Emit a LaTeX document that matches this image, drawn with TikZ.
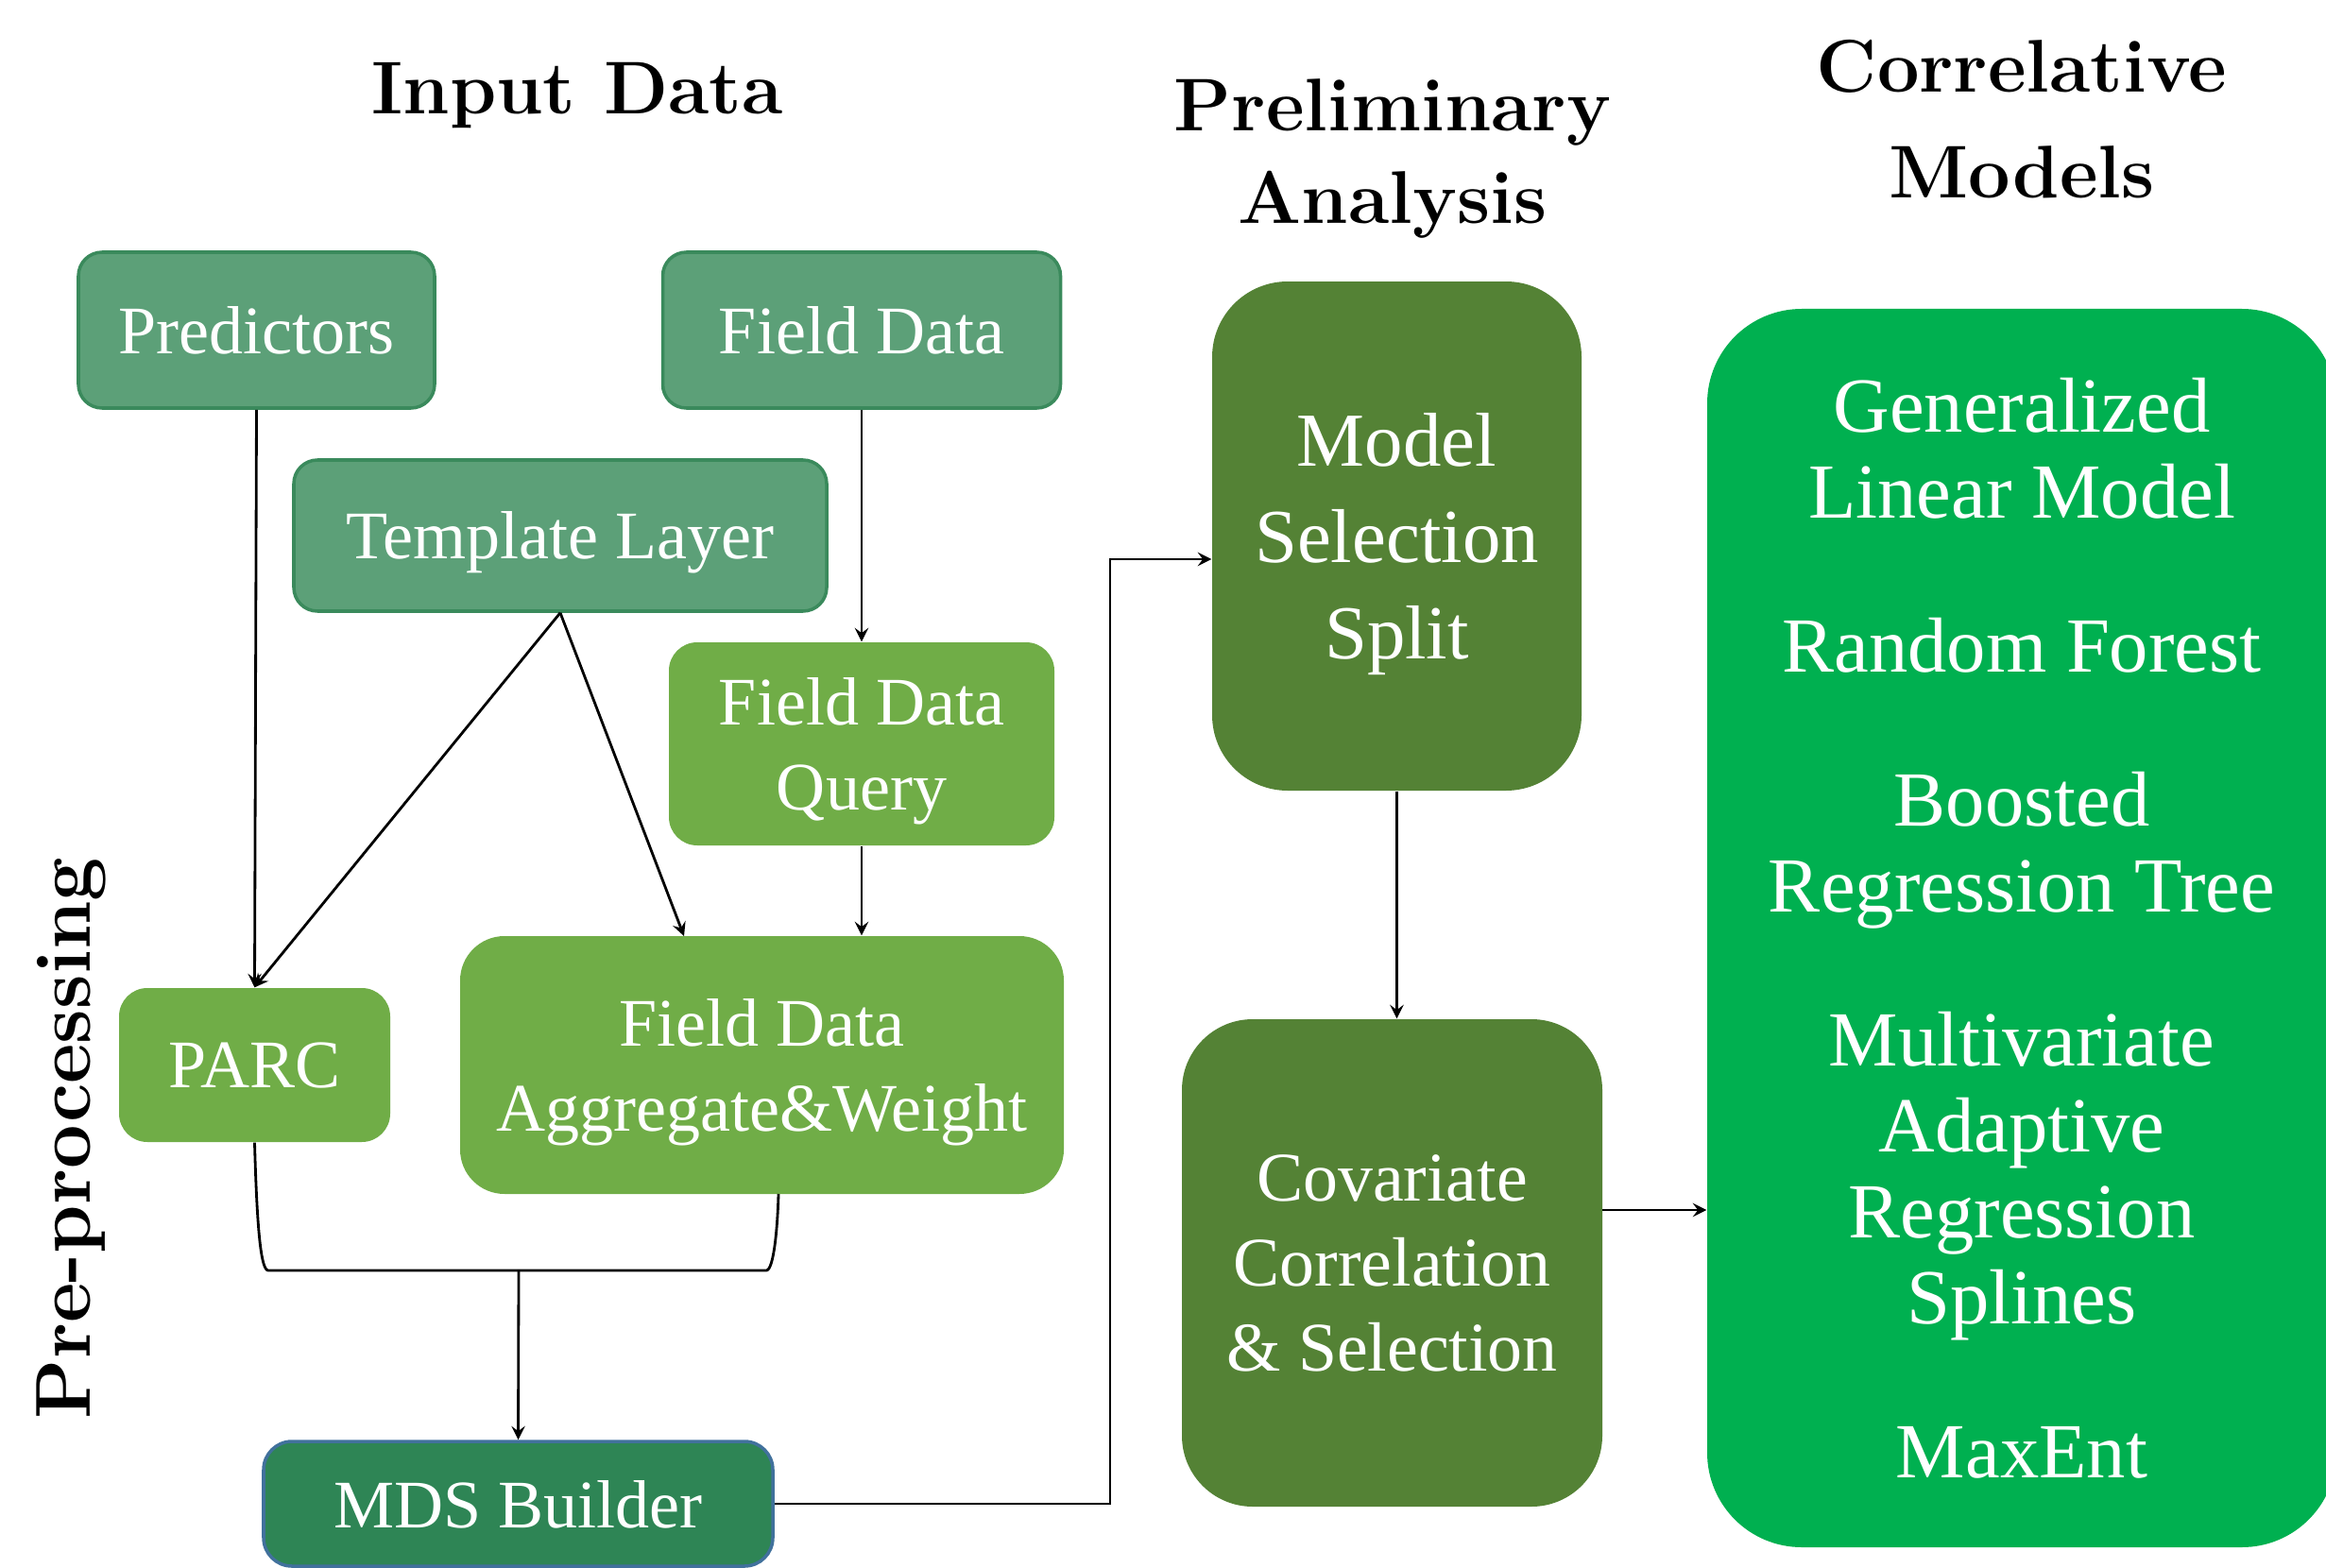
\documentclass[tikz,border=0pt]{standalone}
\usepackage{fontspec}
\newfontfamily\boxfont{Liberation Serif}
\usetikzlibrary{arrows}
\definecolor{vertgris}{HTML}{5CA078}
\definecolor{vertgrisbord}{HTML}{3A8A5C}
\definecolor{vertclair}{HTML}{70AD47}
\definecolor{vertmds}{HTML}{2E8555}
\definecolor{bordmds}{HTML}{41719C}
\definecolor{vertfonce}{HTML}{548235}
\definecolor{vertvif}{HTML}{00B050}
\begin{document}
\begin{tikzpicture}[
  fleche/.style={->,>=stealth,line width=0.8pt},
  boite/.style={text=white,align=center,inner sep=0pt,text depth=0pt,font=\boxfont\fontsize{20.5}{25.5}\selectfont},
  entree/.style={boite,draw=vertgrisbord,line width=1pt,fill=vertgris,rounded corners=0.25cm},
  pretrait/.style={boite,fill=vertclair,rounded corners=0.3cm},
  titre/.style={align=center,inner sep=0pt,font=\bfseries\fontsize{22.5}{27.8}\selectfont}]
\useasboundingbox (0,0) rectangle (24.62,-16.60);
%titres
\node[titre,anchor=base] (tinput) at (6.11,-1.21) {Input Data};
\node[titre] (tprelim) at (14.74,-1.68) {Preliminary\\Analysis};
\node[titre,font=\bfseries\fontsize{22.5}{32}\selectfont] (tcorr) at (21.40,-1.26) {Correlative\\Models};
\node[titre,rotate=90,font=\bfseries\fontsize{23.5}{28}\selectfont] (tpre) at (0.75,-12.05) {Pre-processing};
%fin
%donnees d'entree
\node[entree,minimum width=3.77cm,minimum height=1.65cm] (pred) at (2.715,-3.495) {Predictors};
\node[entree,minimum width=4.21cm,minimum height=1.65cm] (field) at (9.12,-3.495) {Field Data};
\node[entree,minimum width=5.64cm,minimum height=1.60cm] (templ) at (5.93,-5.67) {Template Layer};
%pre-traitement
\node[pretrait,minimum width=4.08cm,minimum height=2.15cm] (query) at (9.12,-7.875) {Field Data\\Query};
\node[pretrait,minimum width=2.87cm,minimum height=1.63cm] (parc) at (2.695,-11.275) {PARC};
\node[pretrait,rounded corners=0.47cm,minimum width=6.39cm,minimum height=2.73cm] (agg) at (8.065,-11.275) {Field Data\\Aggregate\&Weight};
\node[boite,draw=bordmds,line width=1pt,fill=vertmds,rounded corners=0.3cm,minimum width=5.39cm,minimum height=1.32cm] (mds) at (5.485,-15.92) {MDS Builder};
%analyse
\node[boite,fill=vertfonce,rounded corners=0.8cm,minimum width=3.91cm,minimum height=5.39cm,font=\boxfont\fontsize{23}{29}\selectfont] (model) at (14.785,-5.675) {Model\\Selection\\Split};
\node[boite,fill=vertfonce,rounded corners=0.75cm,minimum width=4.45cm,minimum height=5.16cm,font=\boxfont\fontsize{21}{25.6}\selectfont] (covar) at (14.735,-13.37) {Covariate\\Correlation\\\& Selection};
%modeles
\node[boite,fill=vertvif,rounded corners=1cm,minimum width=6.66cm,minimum height=13.11cm,font=\boxfont\fontsize{23.5}{25.9}\selectfont] (corr) at (21.40,-9.825)
  {Generalized\\Linear Model\\[0.72cm]Random Forest\\[0.72cm]Boosted\\Regression Tree\\[0.72cm]Multivariate\\Adaptive\\Regression\\Splines\\[0.72cm]MaxEnt};
%points de passage
\coordinate (aggin) at (7.24,-9.91);
\coordinate (aggout) at (8.24,-12.64);
\coordinate (barL) at (2.84,-13.45);
\coordinate (barM) at (5.49,-13.45);
\coordinate (barR) at (8.11,-13.45);
\coordinate (turn) at (11.75,-5.92);
\coordinate (cout) at (16.96,-12.81);
%fleches
\draw[fleche] (pred.south) -- (parc.north);
\draw[fleche] (field.south) -- (query.north);
\draw[fleche] (templ.south) -- (parc.north);
\draw[fleche] (templ.south) -- (aggin);
\draw[fleche] (query.south) -- (query.south |- agg.north);
\draw[line width=0.8pt] (parc.south) .. controls (2.72,-13.0) and (2.76,-13.45) .. (barL) -- (barR) .. controls (8.19,-13.45) and (8.23,-13.0) .. (aggout);
\draw[fleche] (barM) -- (mds.north);
\draw[fleche] (mds.east) -| (turn) -- (turn -| model.west);
\draw[fleche] (model.south) -- (model.south |- covar.north);
\draw[fleche] (cout) -- (cout -| corr.west);
\end{tikzpicture}
\end{document}
